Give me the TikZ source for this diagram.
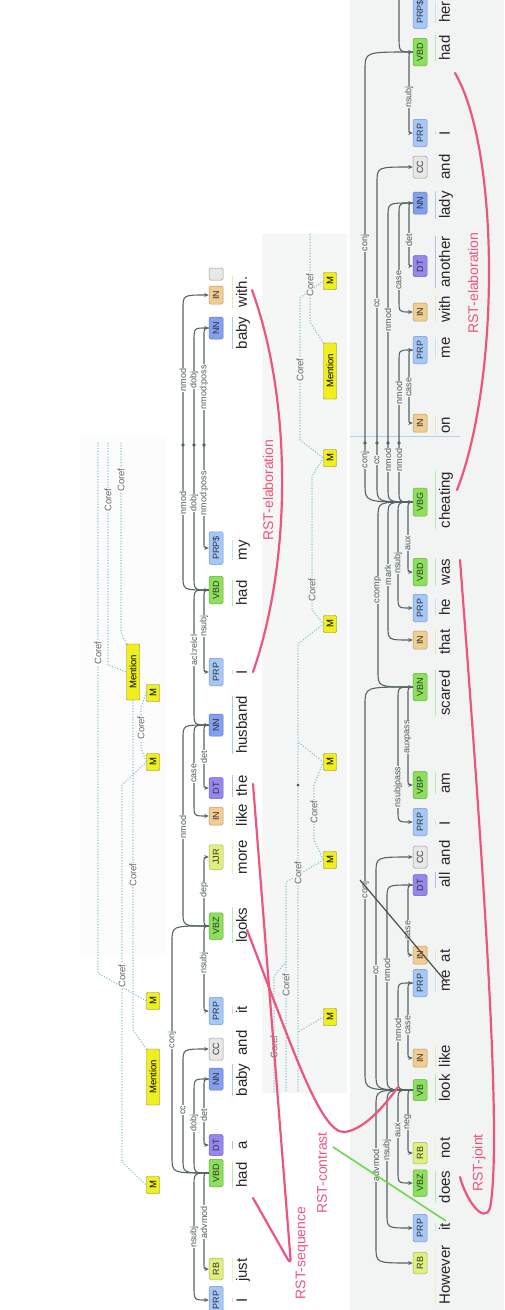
\documentclass[tikz,border=0pt]{standalone}
\usepackage{fontspec}
\setmainfont{Liberation Sans}
\usetikzlibrary{arrows.meta,calc}
\definecolor{cVB}{RGB}{140,225,90}
\definecolor{cNN}{RGB}{130,160,240}
\definecolor{cPRP}{RGB}{165,200,250}
\definecolor{cDT}{RGB}{150,135,240}
\definecolor{cRB}{RGB}{225,240,125}
\definecolor{cIN}{RGB}{240,205,145}
\definecolor{cCC}{RGB}{232,232,232}
\definecolor{cM}{RGB}{240,238,30}
\definecolor{cRST}{RGB}{238,85,125}
\definecolor{cCoref}{RGB}{125,195,205}
\definecolor{cArc}{RGB}{85,100,100}
\definecolor{cPanel}{RGB}{242,243,243}
\definecolor{cMid}{RGB}{245,246,246}
\definecolor{cLeft}{RGB}{252,252,252}
\definecolor{cSep}{RGB}{170,210,235}
\definecolor{cGreen}{RGB}{110,215,80}
\newcommand\darc[5][]{\draw[deparc,#1] (#2) .. controls (#4,0 |- #2) .. ($(#4,0 |- #2)+(0,#5)$) -- ($(#4,0 |- #3)-(0,#5)$) .. controls (#4,0 |- #3) .. (#3);}
\newcommand\hlw[2]{\draw[#2!60,line width=1.2pt] ([xshift=-3pt]#1.north west) -- ([xshift=-3pt]#1.north east);}
\tikzset{
  tagbase/.style={rotate=90,font=\fontsize{9}{9}\selectfont,text=black!80,inner xsep=4.5pt,inner ysep=0pt,minimum height=14pt,rounded corners=1.5pt,line width=0.5pt},
  tVB/.style={tagbase,fill=cVB,draw=cVB!75!black},
  tNN/.style={tagbase,fill=cNN,draw=cNN!75!black},
  tPRP/.style={tagbase,fill=cPRP,draw=cPRP!75!black},
  tDT/.style={tagbase,fill=cDT,draw=cDT!75!black},
  tRB/.style={tagbase,fill=cRB,draw=cRB!75!black},
  tIN/.style={tagbase,fill=cIN,draw=cIN!75!black},
  tCC/.style={tagbase,fill=cCC,draw=black!40},
  wd/.style={rotate=90,font=\fontsize{15}{15}\selectfont,text=black!85,inner sep=0pt,text height=11pt,text depth=3.5pt},
  deparc/.style={draw=cArc,line width=1.1pt,-{Stealth[length=4.5pt,width=4pt]}},
  deparcplain/.style={draw=cArc,line width=1.1pt},
  alab/.style={rotate=90,font=\fontsize{9}{9}\selectfont,text=cArc!90!black,fill=white,inner sep=0.7pt},
  blab/.style={alab,fill=cPanel},
  mbox/.style={rotate=90,font=\fontsize{9.5}{9.5}\selectfont,fill=cM,draw=cM!55!black,line width=0.4pt,inner xsep=2pt,inner ysep=0pt,minimum height=13pt,minimum width=17pt,rounded corners=1pt},
  mmen/.style={mbox,minimum width=56pt},
  coref/.style={draw=cCoref,line width=1.5pt,dash pattern=on 0pt off 2.8pt,line cap=round},
  clab/.style={rotate=90,font=\fontsize{9.5}{9.5}\selectfont,text=black!60,fill=white,inner sep=0.7pt},
  clabm/.style={clab,fill=cMid},
  rst/.style={draw=cRST,line width=2.2pt,line cap=round},
  rstlab/.style={rotate=90,text=cRST,font=\fontsize{14}{14}\selectfont,inner sep=0pt},
}
\begin{document}
\begin{tikzpicture}[x=1pt,y=-1pt]
\useasboundingbox (0,0) rectangle (504,1310);
\fill[white] (0,0) rectangle (504,1310);
% panels
\fill[cPanel] (350,0) rectangle (504,1310);
\fill[cMid] (262,234) rectangle (347,1093);
\fill[cLeft] (80,437) rectangle (167,955);
\draw[cSep,line width=0.8pt] (350,436) -- (460,436);

% ---------- left coreference layer ----------
\node[mmen] (lmen1) at (133,672) {Mention};
\node[mbox] (lm1) at (153,693) {M};
\node[mbox] (lm2) at (153,762) {M};
\node[mbox] (lm3) at (153,1001) {M};
\node[mmen] (lmen2) at (153,1077) {Mention};
\node[mbox] (lm4) at (153,1185) {M};
\coordinate (ct1) at (98,443);
\coordinate (ct2) at (108,443);
\coordinate (ct3) at (121,443);
\draw[coref] (ct1) -- (98,973) -- (lm3.north);
\draw[coref] (ct2) -- (108,665) -- (lmen1.north);
\draw[coref] (ct3) -- (121,632) -- (lmen1.north east);
\draw[coref] (lm1.north) -- (141,708) -- (141,748) -- (lm2.north);
\draw[coref] (lm2.north) -- (122,785) -- (122,1162) -- (lm4.north);
\draw[coref] (lmen1.west) -- (133,1030) -- (lmen2.north east);
\node[clab] (cl1) at (98,653) {Coref};
\node[clab] (cl2) at (108,500) {Coref};
\node[clab] (cl3) at (121,480) {Coref};
\node[clab] (cl4) at (141,728) {Coref};
\node[clab] (cl5) at (122,976) {Coref};
\node[clab] (cl6) at (133,875) {Coref};

% ---------- middle coreference layer ----------
\node[mbox] (cm1) at (330,281) {M};
\node[mmen] (cmen) at (330,371) {Mention};
\node[mbox] (cm2) at (330,458) {M};
\node[mbox] (cm3) at (330,624) {M};
\node[mbox] (cm4) at (330,762) {M};
\node[mbox] (cm5) at (330,860) {M};
\node[mbox] (cm6) at (330,1017) {M};
\coordinate (mt1) at (310,234);
\coordinate (mb1) at (298,1093);
\coordinate (mb2) at (286,1093);
\coordinate (mb3) at (274,1093);
\draw[coref] (mt1) -- (310,322) -- (cmen.north east);
\draw[coref] (cm1.north) -- (300,298) -- (300,440) -- (cm2.north);
\draw[coref] (cm2.north) -- (312,476) -- (312,610) -- (cm3.north);
\draw[coref] (cm3.north) -- (298,644) -- (mb1);
\draw[coref] (cm4.north) -- (298,742);
\draw[coref] (cm4.north) -- (314,785) -- (314,840) -- (cm5.north);
\draw[coref] (cm5.north) -- (286,882) -- (mb2);
\draw[coref] (286,962) -- (274,976) -- (mb3);
\draw[coref] (cm6.north) -- (298,1032);
\fill[black!70] (298,785) circle (1.5pt);
\node[clabm] (cl7) at (310,285) {Coref};
\node[clabm] (cl8) at (300,370) {Coref};
\node[clabm] (cl9) at (312,590) {Coref};
\node[clabm] (cl10) at (314,812) {Coref};
\node[clabm] (cl11) at (298,873) {Coref};
\node[clabm] (cl12) at (286,985) {Coref};
\node[clabm] (cl13) at (274,1047) {Coref};

% ---------- sentence 1 tags ----------
\node[tPRP] (a1) at (216,1300) {PRP};
\node[tRB] (a2) at (216,1269) {RB};
\node[tVB] (a3) at (216,1173) {VBD};
\node[tDT] (a4) at (216,1145) {DT};
\node[tNN] (a5) at (216,1079) {NN};
\node[tCC] (a6) at (216,1049) {CC};
\node[tPRP] (a7) at (216,1011) {PRP};
\node[tVB] (a8) at (216,926) {VBZ};
\node[tRB] (a9) at (216,857) {JJR};
\node[tIN] (a10) at (216,816) {IN};
\node[tDT] (a11) at (216,788) {DT};
\node[tNN] (a12) at (216,725) {NN};
\node[tPRP] (a13) at (216,672) {PRP};
\node[tVB] (a14) at (216,590) {VBD};
\node[tPRP] (a15) at (216,548) {PRP\$};
\node[tNN] (a16) at (216,328) {NN};
\node[tIN] (a17) at (216,295) {IN};
\node[tCC,minimum width=12pt] (a18) at (216,274) {};

% sentence 1 arcs
\darc{a3.north}{a1.north}{194}{14}
\darc{a3.north}{a2.north}{204}{8}
\darc{a5.north}{a4.north}{204}{8}
\darc{a3.north}{a5.north}{194}{-14}
\darc{a3.north}{a6.north}{183}{-14}
\darc{a3.north}{a8.north}{172}{-16}
\darc{a8.north}{a7.north}{204}{8}
\darc{a8.north}{a9.north}{204}{-8}
\darc{a8.north}{a12.north}{183}{-14}
\darc{a12.north}{a10.north}{194}{12}
\darc{a12.north}{a11.north}{204}{8}
\darc{a12.north}{a14.north}{194}{-14}
\darc{a14.north}{a13.north}{204}{8}
\darc{a14.north}{a17.north}{183}{-14}
\darc{a14.north}{a16.north}{194}{-14}
\darc{a16.north}{a15.north}{204}{8}
\foreach \xx in {183,194,204} \fill[cArc] (\xx,445) circle (1.8pt);
\node[alab] (p1) at (194,1237) {nsubj};
\node[alab] (p2) at (204,1222) {advmod};
\node[alab] (p3) at (204,1115) {det};
\node[alab] (p4) at (194,1123) {dobj};
\node[alab] (p5) at (183,1110) {cc};
\node[alab] (p6) at (172,1040) {conj};
\node[alab] (p7) at (204,963) {nsubj};
\node[alab] (p8) at (204,890) {dep};
\node[alab] (p9) at (183,827) {nmod};
\node[alab] (p10) at (194,773) {case};
\node[alab] (p11) at (204,757) {det};
\node[alab] (p12) at (194,650) {acl:relcl};
\node[alab] (p13) at (204,626) {nsubj};
\node[alab] (p14) at (183,380) {nmod};
\node[alab] (p15) at (183,503) {nmod};
\node[alab] (p16) at (194,380) {dobj};
\node[alab] (p17) at (194,503) {dobj};
\node[alab] (p18) at (204,387) {nmod:poss};
\node[alab] (p19) at (204,493) {nmod:poss};

% sentence 1 words
\node[wd] (w1) at (243,1300) {I};
\node[wd] (w2) at (243,1270) {just};
\node[wd] (w3) at (243,1175) {had};
\node[wd] (w4) at (243,1145) {a};
\node[wd] (w5) at (243,1080) {baby};
\node[wd] (w6) at (243,1043) {and};
\node[wd] (w7) at (243,1010) {it};
\node[wd] (w8) at (243,925) {looks};
\node[wd] (w9) at (243,857) {more};
\node[wd] (w10) at (243,815) {like};
\node[wd] (w11) at (243,786) {the};
\node[wd] (w12) at (243,725) {husband};
\node[wd] (w13) at (243,672) {I};
\node[wd] (w14) at (243,593) {had};
\node[wd] (w15) at (243,550) {my};
\node[wd] (w16) at (243,333) {baby};
\node[wd] (w17) at (243,292) {with.};
\hlw{w1}{cPRP}\hlw{w2}{cRB}\hlw{w3}{cVB}\hlw{w4}{cDT}\hlw{w5}{cNN}\hlw{w6}{cCC}
\hlw{w7}{cPRP}\hlw{w8}{cVB}\hlw{w9}{cRB}\hlw{w10}{cIN}\hlw{w11}{cDT}\hlw{w12}{cNN}
\hlw{w13}{cPRP}\hlw{w14}{cVB}\hlw{w15}{cPRP}\hlw{w16}{cNN}\hlw{w17}{cIN}

% ---------- sentence 2 tags ----------
\node[tRB] (b1) at (420,1263) {RB};
\node[tPRP] (b2) at (420,1228) {PRP};
\node[tVB] (b3) at (420,1183) {VBZ};
\node[tRB] (b4) at (420,1153) {RB};
\node[tVB] (b5) at (420,1090) {VB};
\node[tIN] (b6) at (420,1058) {IN};
\node[tPRP] (b7) at (420,983) {PRP};
\node[tIN] (b8) at (420,955) {IN};
\node[tDT] (b9) at (420,885) {DT};
\node[tCC] (b10) at (420,857) {CC};
\node[tPRP] (b11) at (420,822) {PRP};
\node[tVB] (b12) at (420,785) {VBP};
\node[tVB] (b13) at (420,687) {VBN};
\node[tIN] (b14) at (420,640) {IN};
\node[tPRP] (b15) at (420,608) {PRP};
\node[tVB] (b16) at (420,572) {VBD};
\node[tVB] (b17) at (420,502) {VBG};
\node[tIN] (b18) at (420,423) {IN};
\node[tPRP] (b19) at (420,350) {PRP};
\node[tIN] (b20) at (420,312) {IN};
\node[tDT] (b21) at (420,266) {DT};
\node[tNN] (b22) at (420,203) {NN};
\node[tCC] (b23) at (420,167) {CC};
\node[tPRP] (b24) at (420,133) {PRP};
\node[tVB] (b25) at (420,52) {VBD};
\node[tPRP] (b26) at (420,12) {PRP\$};

% sentence 2 arcs
\darc{b5.north}{b1.north}{376}{16}
\darc{b5.north}{b2.north}{387}{14}
\darc{b5.north}{b3.north}{398}{12}
\darc{b5.north}{b4.north}{408}{8}
\darc{b7.north}{b6.north}{408}{8}
\darc{b5.north}{b7.north}{398}{-12}
\darc{b9.north}{b8.north}{408}{8}
\darc{b5.north}{b9.north}{387}{-14}
\darc{b5.north}{b10.north}{376}{-16}
\darc{b5.north}{b13.north}{365}{-18}
\darc{b13.north}{b11.north}{398}{12}
\darc{b13.north}{b12.north}{408}{8}
\darc{b13.north}{b17.north}{378}{-16}
\darc{b17.north}{b14.north}{388}{14}
\darc{b17.north}{b15.north}{398}{12}
\darc{b17.north}{b16.north}{408}{8}
\darc{b17.north}{b25.north}{365}{-18}
\darc{b17.north}{b23.north}{377}{-16}
\darc{b17.north}{b22.north}{388}{-14}
\darc{b17.north}{b19.north}{399}{-12}
\darc{b19.north}{b18.north}{409}{8}
\darc{b22.north}{b20.north}{399}{12}
\darc{b22.north}{b21.north}{409}{8}
\darc{b25.north}{b24.north}{409}{8}
\coordinate (topfree) at (399,-8);
\draw[deparcplain] (b25.north) .. controls (399,0 |- b25.north) .. ($(399,0 |- b25.north)+(0,-16)$) -- (topfree);
\foreach \xx in {365,377,388,399} \fill[cArc] (\xx,443) circle (1.8pt);
\node[blab] (q1) at (376,1165) {advmod};
\node[blab] (q2) at (387,1150) {nsubj};
\node[blab] (q3) at (398,1130) {aux};
\node[blab] (q4) at (408,1122) {neg};
\node[blab] (q5) at (408,1025) {case};
\node[blab] (q6) at (398,1030) {nmod};
\node[blab] (q7) at (408,930) {case};
\node[blab] (q8) at (387,970) {nmod};
\node[blab] (q9) at (376,970) {cc};
\node[blab] (q10) at (365,890) {conj};
\node[blab] (q11) at (398,787) {nsubjpass};
\node[blab] (q12) at (408,737) {auxpass};
\node[blab] (q13) at (378,590) {ccomp};
\node[blab] (q14) at (388,575) {mark};
\node[blab] (q15) at (398,563) {nsubj};
\node[blab] (q16) at (408,543) {aux};
\node[blab] (q17) at (365,460) {conj};
\node[blab] (q18) at (377,460) {cc};
\node[blab] (q19) at (388,460) {nmod};
\node[blab] (q20) at (399,460) {nmod};
\node[blab] (q21) at (365,243) {conj};
\node[blab] (q22) at (377,303) {cc};
\node[blab] (q23) at (388,320) {nmod};
\node[blab] (q24) at (399,393) {nmod};
\node[blab] (q25) at (409,387) {case};
\node[blab] (q26) at (399,280) {case};
\node[blab] (q27) at (409,240) {det};
\node[blab] (q28) at (409,97) {nsubj};

% sentence 2 words
\node[wd] (v1) at (446,1275) {However};
\node[wd] (v2) at (446,1227) {it};
\node[wd] (v3) at (446,1187) {does};
\node[wd] (v4) at (446,1148) {not};
\node[wd] (v5) at (446,1088) {look};
\node[wd] (v6) at (446,1056) {like};
\node[wd] (v7) at (446,981) {me};
\node[wd] (v8) at (446,956) {at};
\node[wd] (v9) at (446,880) {all};
\node[wd] (v10) at (446,853) {and};
\node[wd] (v11) at (446,823) {I};
\node[wd] (v12) at (446,783) {am};
\node[wd] (v13) at (446,693) {scared};
\node[wd] (v14) at (446,642) {that};
\node[wd] (v15) at (446,607) {he};
\node[wd] (v16) at (446,572) {was};
\node[wd] (v17) at (446,500) {cheating};
\node[wd] (v18) at (446,425) {on};
\node[wd] (v19) at (446,348) {me};
\node[wd] (v20) at (446,309) {with};
\node[wd] (v21) at (446,262) {another};
\node[wd] (v22) at (446,205) {lady};
\node[wd] (v23) at (446,167) {and};
\node[wd] (v24) at (446,133) {I};
\node[wd] (v25) at (446,48) {had};
\node[wd] (v26) at (446,12) {her};
\hlw{v1}{cRB}\hlw{v2}{cPRP}\hlw{v3}{cVB}\hlw{v4}{cRB}\hlw{v5}{cVB}\hlw{v6}{cIN}
\hlw{v7}{cPRP}\hlw{v8}{cIN}\hlw{v9}{cDT}\hlw{v10}{cCC}\hlw{v11}{cPRP}\hlw{v12}{cVB}
\hlw{v13}{cVB}\hlw{v14}{cIN}\hlw{v15}{cPRP}\hlw{v16}{cVB}\hlw{v17}{cVB}\hlw{v18}{cIN}
\hlw{v19}{cPRP}\hlw{v20}{cIN}\hlw{v21}{cDT}\hlw{v22}{cNN}\hlw{v23}{cCC}\hlw{v24}{cPRP}
\hlw{v25}{cVB}\hlw{v26}{cPRP}

% ---------- overlays ----------
\draw[black!70,line width=1.2pt] (360,880) -- (447,983);
\draw[cGreen,line width=1.6pt] (333,1147) -- (446,1221);
\draw[rst] (252,290) .. controls (292,400) and (292,560) .. (253,672);
\node[rstlab] (r1) at (268,490) {RST-elaboration};
\draw[rst,rounded corners=7pt] (253,784) -- (291,1265) -- (253,1198);
\node[rstlab] (r2) at (302,1253) {RST-sequence};
\draw[rst] (247,930) .. controls (290,1040) and (320,1135) .. (345,1132) .. controls (365,1129) and (385,1105) .. (398,1087);
\node[rstlab] (r3) at (322,1173) {RST-contrast};
\draw[rst] (460,560) .. controls (482,850) and (503,1140) .. (490,1208) .. controls (484,1225) and (466,1200) .. (460,1177);
\node[rstlab] (r4) at (479,1163) {RST-joint};
\draw[rst] (457,490) .. controls (500,380) and (500,150) .. (455,73);
\node[rstlab] (r5) at (473,283) {RST-elaboration};
\end{tikzpicture}
\end{document}
